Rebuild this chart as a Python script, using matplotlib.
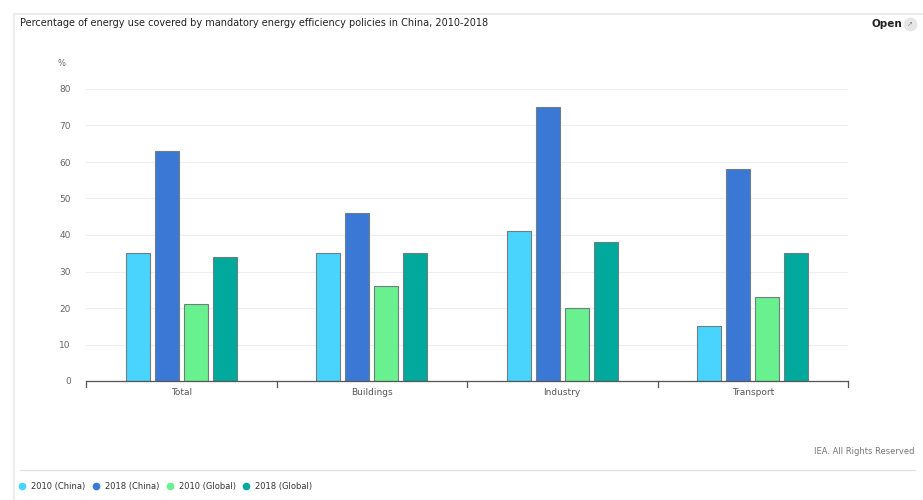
import matplotlib.pyplot as plt
from matplotlib.lines import Line2D
from matplotlib.patches import Rectangle
import numpy as np

categories = ["Total", "Buildings", "Industry", "Transport"]
series_names = ["2010 (China)", "2018 (China)", "2010 (Global)", "2018 (Global)"]
values = {
    "2010 (China)": [35, 35, 41, 15],
    "2018 (China)": [63, 46, 75, 58],
    "2010 (Global)": [21, 26, 20, 23],
    "2018 (Global)": [34, 35, 38, 35],
}
colors = ["#48d4fd", "#3b78d6", "#69f08f", "#00a99c"]
y_ticks = [0, 10, 20, 30, 40, 50, 60, 70, 80]

W, H = 923, 500
fig = plt.figure(figsize=(W / 100, H / 100), dpi=100)
fig.patch.set_facecolor("white")

# outer card border
fig.add_artist(Rectangle((14 / W, -0.05), 1.2, 1 - 14 / H + 0.05, transform=fig.transFigure,
                         fill=False, edgecolor="#ececec", linewidth=1.5))

ax = fig.add_axes([86 / W, 1 - 381 / H, (848 - 86) / W, (381 - 89) / H])
x = np.arange(len(categories))
bw = 0.126
step = 0.152
offsets = (np.arange(4) - 1.5) * step
for i, name in enumerate(series_names):
    ax.bar(x + offsets[i], values[name], width=bw, color=colors[i],
           edgecolor="#6f7f80", linewidth=0.8, zorder=3)

ax.set_xlim(-0.5, len(categories) - 0.5)
ax.set_ylim(0, 80)
ax.set_yticks(y_ticks)
ax.set_yticklabels([str(v) for v in y_ticks], fontsize=6.5, color="#666666")
ax.yaxis.grid(True, color="#eeeeee", linewidth=0.8, zorder=0)
ax.tick_params(axis="y", length=0, pad=11)
ax.set_xticks(x)
ax.set_xticklabels(categories, fontsize=6.5, color="#555555")
ax.tick_params(axis="x", length=0, pad=5)
for b in np.arange(-0.5, len(categories), 1.0):
    ax.plot([b, b], [0, -1.6], color="#555555", linewidth=0.9, clip_on=False, zorder=4)
for s in ["top", "right", "left"]:
    ax.spines[s].set_visible(False)
ax.spines["bottom"].set_color("#555555")
ax.spines["bottom"].set_linewidth(0.9)
ax.spines["bottom"].set_zorder(4)

fig.text(62 / W, 1 - 64 / H, "%", fontsize=6, color="#666666", ha="center", va="center")
fig.text(20 / W, 1 - 23 / H,
         "Percentage of energy use covered by mandatory energy efficiency policies in China, 2010-2018",
         fontsize=7, color="#222222", va="center", fontweight="medium")
fig.text(871 / W, 1 - 24 / H, "Open", fontsize=7.5, fontweight="bold", color="#222222", va="center")
fig.add_artist(Line2D([910 / W], [1 - 24 / H], marker="o", markersize=9, color="#e6e6e6",
                      transform=fig.transFigure))
fig.text(910 / W, 1 - 24 / H, "\u2197", fontsize=5, color="#888888", ha="center", va="center")

fig.text(915 / W, 1 - 452 / H, "IEA. All Rights Reserved", fontsize=6, color="#777777",
         ha="right", va="center")
fig.add_artist(Line2D([20 / W, 915 / W], [1 - 470 / H] * 2, color="#e3e3e3", linewidth=1,
                      transform=fig.transFigure))

# legend row
lx = [22, 96, 170, 246]
for i, name in enumerate(series_names):
    fig.add_artist(Line2D([lx[i] / W], [1 - 486 / H], marker="o", markersize=4.5,
                          color=colors[i], linestyle="none", transform=fig.transFigure))
    fig.text((lx[i] + 9) / W, 1 - 486 / H, name, fontsize=6, color="#333333", va="center")

fig.savefig("out.png", dpi=100)
